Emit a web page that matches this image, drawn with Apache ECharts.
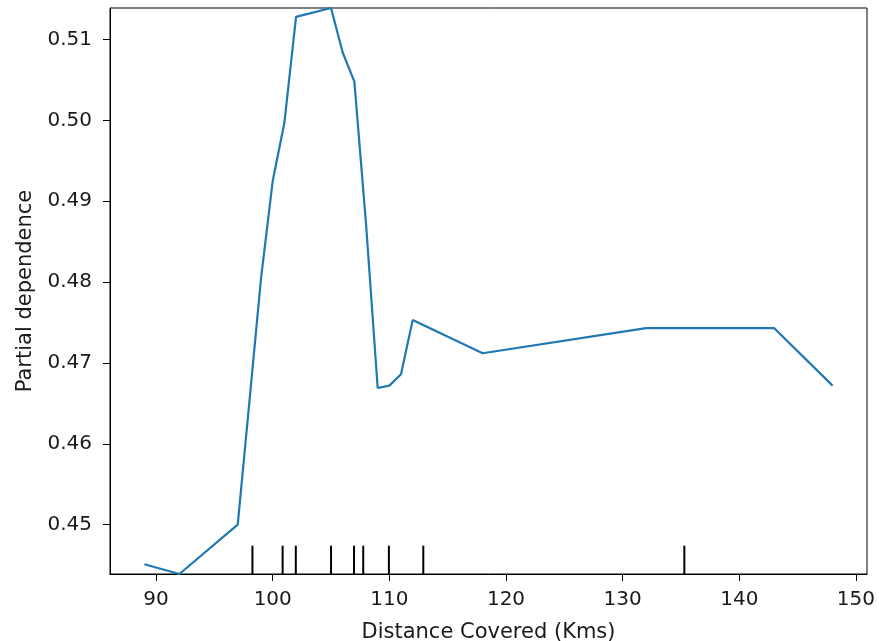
<!DOCTYPE html>
<html>
<head>
<meta charset="utf-8">
<script src="https://cdn.jsdelivr.net/npm/echarts@6/dist/echarts.min.js"></script>
<style>
html,body{margin:0;padding:0;background:#fff;}
#chart{width:879px;height:641px;}
</style>
</head>
<body>
<div id="chart"></div>
<script>
// Grid values (Distance Covered, Kms)
const gridX = [89, 92, 97, 98, 99, 100, 101, 102, 105, 106, 107, 108, 109, 110, 111, 112, 118, 132, 143, 148];
// Partial dependence values
const pdValues = [0.4451, 0.4439, 0.4500, 0.4652, 0.4805, 0.4925, 0.4997, 0.5128, 0.5139, 0.5084, 0.5048, 0.4872, 0.4669, 0.4672, 0.4686, 0.4753, 0.4712, 0.4743, 0.4743, 0.4672];
// Deciles of the feature (rug marks)
const deciles = [98.26, 100.85, 101.98, 105.0, 106.97, 107.76, 109.96, 112.91, 135.29];
// Tick labels
const xTicks = [90, 100, 110, 120, 130, 140, 150];
const yTicks = [0.45, 0.46, 0.47, 0.48, 0.49, 0.50, 0.51];

const X_MIN = 86.05, X_MAX = 150.95;
const Y_MIN = 0.4439, Y_MAX = 0.5139;

const chart = echarts.init(document.getElementById('chart'), null, {renderer: 'canvas'});
const font = 'DejaVu Sans';
const txt = '#1a1a1a';

chart.setOption({
  animation: false,
  backgroundColor: '#fff',
  grid: {left: 110, right: 12, top: 8, bottom: 67, containLabel: false, outerBoundsMode: 'none', show: true, borderColor: '#000', borderWidth: 1, backgroundColor: 'transparent'},
  xAxis: {
    type: 'value', min: X_MIN, max: X_MAX,
    name: 'Distance Covered (Kms)', nameLocation: 'middle', nameGap: 48,
    nameTextStyle: {fontFamily: font, fontSize: 21, color: txt},
    axisLine: {show: true, onZero: false, lineStyle: {color: '#000', width: 1}},
    axisTick: {show: true, length: 7, lineStyle: {color: '#000', width: 1}, customValues: xTicks},
    axisLabel: {fontFamily: font, fontSize: 20, color: txt, margin: 16, customValues: xTicks, formatter: v => String(Math.round(v))},
    splitLine: {show: false}
  },
  yAxis: {
    type: 'value', min: Y_MIN, max: Y_MAX,
    name: 'Partial dependence', nameLocation: 'middle', nameGap: 74, nameRotate: 90,
    nameTextStyle: {fontFamily: font, fontSize: 21, color: txt},
    axisLine: {show: true, onZero: false, lineStyle: {color: '#000', width: 1}},
    axisTick: {show: true, length: 7, lineStyle: {color: '#000', width: 1}, customValues: yTicks},
    axisLabel: {fontFamily: font, fontSize: 20, color: txt, margin: 18, customValues: yTicks, formatter: v => v.toFixed(2)},
    splitLine: {show: false}
  },
  series: [
    {
      type: 'line',
      data: gridX.map((x, i) => [x, pdValues[i]]),
      showSymbol: false,
      lineStyle: {color: '#1f77b4', width: 2.2},
      itemStyle: {color: '#1f77b4'},
      clip: false
    },
    {
      type: 'custom',
      data: deciles.map(d => [d]),
      renderItem: function (params, api) {
        const x = api.value(0);
        const p0 = api.coord([x, Y_MIN]);
        const p1 = api.coord([x, Y_MIN + 0.05 * (Y_MAX - Y_MIN)]);
        return {
          type: 'line',
          shape: {x1: p0[0], y1: p0[1], x2: p1[0], y2: p1[1]},
          style: {stroke: '#000', lineWidth: 2}
        };
      },
      encode: {x: 0}
    }
  ]
});
</script>
</body>
</html>
